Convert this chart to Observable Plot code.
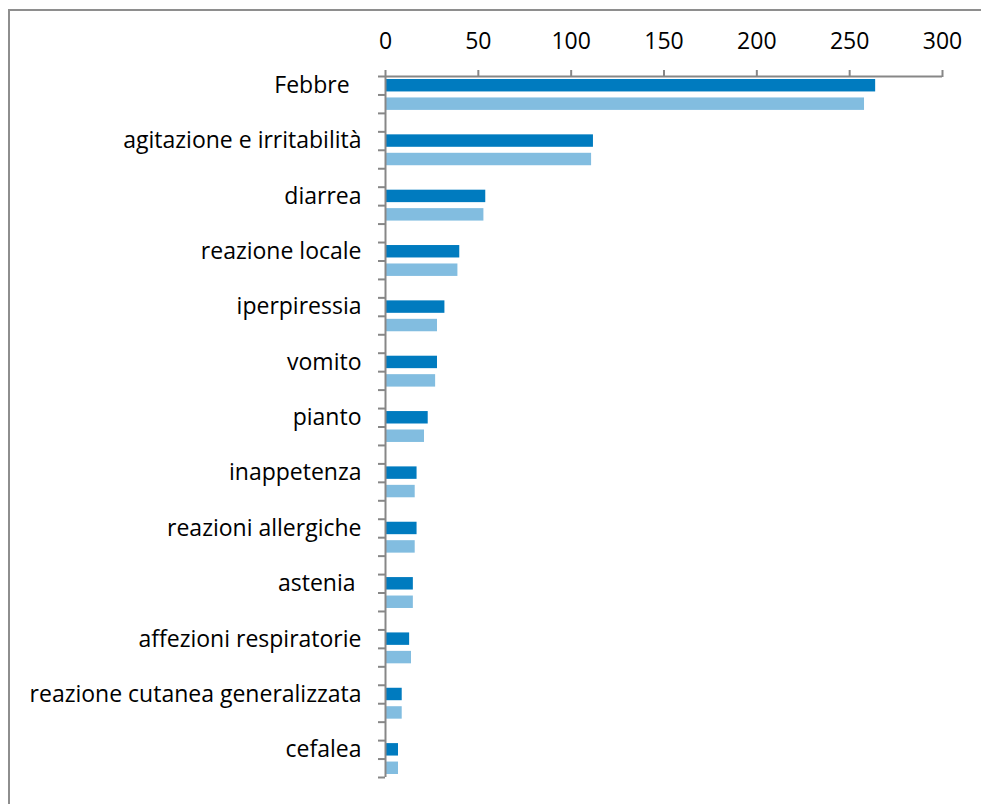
<!DOCTYPE html>
<html><head><meta charset="utf-8">
<script src="https://cdn.jsdelivr.net/npm/d3@7"></script>
<script src="https://cdn.jsdelivr.net/npm/@observablehq/plot@0.6"></script>
<style>
body{margin:0;background:#fff;}
#wrap{position:relative;width:981px;height:804px;overflow:hidden;background:#fff;}
#frame{position:absolute;left:8px;top:9px;width:2000px;height:2000px;border-left:2px solid #8e8e8e;border-top:2px solid #8e8e8e;}
#chart{position:absolute;left:0;top:0;}
</style></head><body><div id="wrap"><div id="frame"></div><div id="chart"></div></div>
<script>
const categories = [
  "Febbre\u00a0\u00a0",
  "agitazione e irritabilità",
  "diarrea",
  "reazione locale",
  "iperpiressia",
  "vomito",
  "pianto",
  "inappetenza",
  "reazioni allergiche",
  "astenia\u00a0",
  "affezioni respiratorie",
  "reazione cutanea generalizzata",
  "cefalea"
];
const seriesDark  = [264, 112, 54, 40, 32, 28, 23, 17, 17, 15, 13, 9, 7];
const seriesLight = [258, 111, 53, 39, 28, 27, 21, 16, 16, 15, 14, 9, 7];
const seriesNames = ["A", "B"];
const seriesColors = ["#007BBF", "#82BDE0"];
const xTicks = [0, 50, 100, 150, 200, 250, 300];
const slotsPerCategory = 3;

const rows = categories.flatMap((c, i) => [
  {cat: c, serie: "A", value: seriesDark[i],  s1: i * slotsPerCategory,     s2: i * slotsPerCategory + 1},
  {cat: c, serie: "B", value: seriesLight[i], s1: i * slotsPerCategory + 1, s2: i * slotsPerCategory + 2}
]);
const nSlots = categories.length * slotsPerCategory - 1;
const gray = "#878787";

const chart = Plot.plot({
  width: 981, height: 804,
  marginLeft: 385, marginRight: 39, marginTop: 76, marginBottom: 27,
  style: {fontFamily: "'Open Sans'", fontSize: "23px", color: "#000", background: "transparent", overflow: "visible"},
  x: {domain: [0, 300], label: null},
  y: {domain: [0, nSlots], reverse: true, label: null},
  color: {domain: seriesNames, range: seriesColors},
  marks: [
    Plot.rect(rows, {x1: 0, x2: "value", y1: "s1", y2: "s2", fill: "serie", insetTop: 3, insetBottom: 3}),
    Plot.ruleX([0], {stroke: gray, strokeWidth: 2}),
    Plot.ruleY([0], {stroke: gray, strokeWidth: 2}),
    Plot.axisX({anchor: "top", ticks: xTicks, tickSize: 7, tickPadding: 21, stroke: gray, strokeWidth: 2, fill: "#000", label: null, tickFormat: d => String(d)}),
    Plot.axisY({ticks: d3.range(0, nSlots + 1), tickSize: 7, tickFormat: () => "", stroke: gray, strokeWidth: 2, label: null}),
    Plot.axisY({ticks: categories.map((c, i) => i * slotsPerCategory + 0.5), tickSize: 0, tickPadding: 24, fill: "#000", label: null,
      tickFormat: d => categories[Math.round((d - 0.5) / slotsPerCategory)]})
  ]
});
document.getElementById("chart").appendChild(chart);
</script></body></html>
